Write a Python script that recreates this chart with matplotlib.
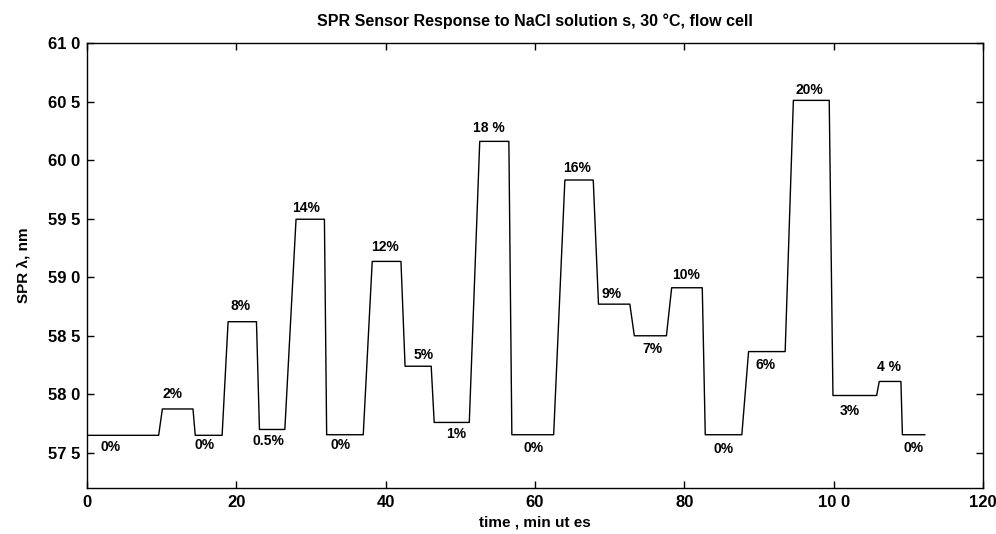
import matplotlib
matplotlib.use("Agg")
import matplotlib.pyplot as plt

plt.rcParams['font.family'] = ['Liberation Sans', 'DejaVu Sans']

# Breakpoints of the SPR response trace (time in min, wavelength in nm)
time_min = [0.0, 9.6, 10.1, 14.2, 14.5, 18.1, 18.9, 22.7, 23.1, 26.5, 28.0, 31.8, 32.1,
            37.0, 38.2, 42.05, 42.6, 46.1, 46.5, 51.2, 52.6, 56.5, 56.9,
            62.5, 64.0, 67.8, 68.5, 72.7, 73.3, 77.6, 78.3, 82.4, 82.8,
            87.7, 88.6, 93.5, 94.6, 99.4, 99.9, 105.75, 106.1, 109.0, 109.2, 112.2]
spr_nm = [576.5, 576.5, 578.75, 578.75, 576.5, 576.5, 586.2, 586.2, 577.0, 577.0, 594.95, 594.95, 576.55,
          576.55, 591.35, 591.35, 582.4, 582.4, 577.6, 577.6, 601.6, 601.6, 576.55,
          576.55, 598.3, 598.3, 587.7, 587.7, 585.0, 585.0, 589.1, 589.1, 576.55,
          576.55, 583.65, 583.65, 605.1, 605.1, 579.9, 579.9, 581.1, 581.1, 576.55, 576.55]

# Concentration annotations
label_text = ["0%", "2%", "0%", "8%", "0.5%", "14%", "0%", "12%", "5%", "1%", "18 %",
              "0%", "16%", "9%", "7%", "10%", "0%", "6%", "20%", "3%", "4 %", "0%"]
label_t = [3.1, 11.5, 15.8, 20.6, 24.3, 29.4, 34.0, 39.9, 45.1, 49.4, 53.8,
           59.8, 65.6, 70.3, 75.7, 80.2, 85.3, 90.9, 96.8, 102.2, 107.4, 110.7]
label_nm = [575.5, 580.0, 575.7, 587.5, 576.05, 595.9, 575.7, 592.6, 583.4, 576.6, 602.75,
            575.4, 599.3, 588.6, 583.9, 590.2, 575.3, 582.5, 606.0, 578.6, 582.3, 575.4]

x_ticks = [0, 20, 40, 60, 80, 100, 120]
x_ticklabels = ["0", "20", "40", "60", "80", "10 0", "120"]
y_ticks = [575, 580, 585, 590, 595, 600, 605, 610]
y_ticklabels = ["57 5", "58 0", "58 5", "59 0", "59 5", "60 0", "60 5", "61 0"]

fig = plt.figure(figsize=(9.96, 5.34), dpi=100)
ax = fig.add_axes([0.0873, 0.0861, 0.8997, 0.8334])

ax.plot(time_min, spr_nm, color='black', linewidth=1.0)
for s, t, v in zip(label_text, label_t, label_nm):
    ax.text(t, v, s, ha='center', va='center', fontsize=10, fontweight='bold')

ax.set_xlim(0, 120)
ax.set_ylim(572.0, 610.0)
ax.set_xticks(x_ticks)
ax.set_xticklabels(x_ticklabels, fontsize=12, fontweight='bold')
ax.set_yticks(y_ticks)
ax.set_yticklabels(y_ticklabels, fontsize=12, fontweight='bold')
ax.tick_params(direction='in', top=True, right=True, length=5, width=1, pad=5)
for sp in ax.spines.values():
    sp.set_linewidth(1.0)

ax.set_xlabel("time , min ut es", fontsize=11, fontweight='bold', labelpad=4)
ax.set_ylabel("SPR λ, nm", fontsize=11, fontweight='bold', labelpad=12)
ax.set_title("SPR Sensor Response to NaCl solution s, 30 °C, flow cell",
             fontsize=11.5, fontweight='bold', pad=12)

fig.savefig("out.png", dpi=100)
